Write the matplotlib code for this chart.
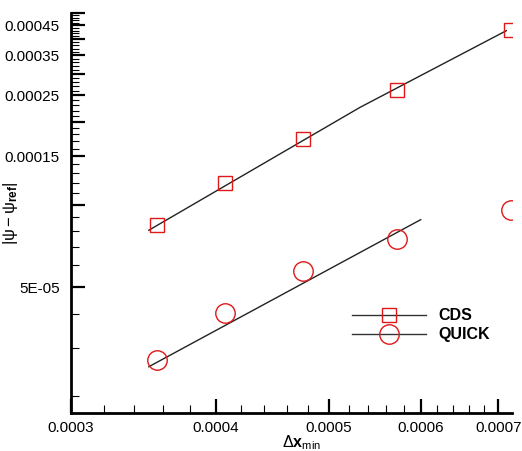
import matplotlib.pyplot as plt
import numpy as np
from matplotlib.ticker import FixedLocator, NullFormatter

plt.rcParams['font.family'] = ['Liberation Sans', 'DejaVu Sans']
plt.rcParams['mathtext.fontset'] = 'custom'
plt.rcParams['mathtext.rm'] = 'Liberation Sans'
plt.rcParams['mathtext.it'] = 'Liberation Sans'
plt.rcParams['mathtext.bf'] = 'Liberation Sans:bold'

# grid spacing and error, both schemes
dx = [3.56e-4, 4.07e-4, 4.75e-4, 5.73e-4, 7.17e-4]
err_cds = [8.4e-5, 1.20e-4, 1.74e-4, 2.62e-4, 4.34e-4]
err_quick = [2.71e-5, 4.02e-5, 5.73e-5, 7.46e-5, 9.55e-5]

# reference slope lines
fit_cds_x = [3.5e-4, 5.32e-4, 7.11e-4]
fit_cds_y = [8.06e-5, 2.26e-4, 4.30e-4]
fit_quick_x = [3.5e-4, 6.0e-4]
fit_quick_y = [2.565e-5, 8.81e-5]

xticks = [3e-4, 4e-4, 5e-4, 6e-4, 7e-4]
xtick_labels = ['0.0003', '0.0004', '0.0005', '0.0006', '0.0007']
yticks = [5e-5, 1e-4, 1.5e-4, 2e-4, 2.5e-4, 3e-4, 3.5e-4, 4e-4, 4.5e-4, 5e-4]
ytick_labels = ['5E-05', '', '0.00015', '', '0.00025', '', '0.00035', '', '0.00045', '']

fig = plt.figure(figsize=(5.22, 4.51), dpi=100)
ax = fig.add_axes([71/522, 38/451, 441/522, 400.3/451])

ax.plot(fit_cds_x, fit_cds_y, color='#222222', lw=1)
ax.plot(fit_quick_x, fit_quick_y, color='#222222', lw=1)
ax.plot(dx, err_cds, ls='none', marker='s', ms=10, mfc='none', mec='#e01818', mew=1)
ax.plot(dx, err_quick, ls='none', marker='o', ms=14, mfc='none', mec='#e01818', mew=1)

# legend entries: line plus marker
h1, = ax.plot([], [], color='#333333', lw=1, marker='s', ms=10, mfc='none', mec='#e01818', mew=1)
h2, = ax.plot([], [], color='#333333', lw=1, marker='o', ms=14, mfc='none', mec='#e01818', mew=1)
leg = ax.legend([h1, h2], ['CDS', 'QUICK'], frameon=False, handlelength=4.6,
                prop={'weight': 'bold', 'size': 11.5}, labelspacing=0.25, handletextpad=0.8,
                loc='upper left', bbox_to_anchor=((338-71)/441, (413-294)/400.3))

ax.set_xscale('log')
ax.set_yscale('log')
ax.set_xlim(3e-4, 7.19e-4)
ax.set_ylim(1.74e-5, 5e-4)

ax.xaxis.set_major_locator(FixedLocator(xticks))
ax.set_xticklabels(xtick_labels)
ax.xaxis.set_minor_locator(FixedLocator(np.arange(3.2e-4, 7.1e-4, 2e-5)))
ax.xaxis.set_minor_formatter(NullFormatter())
ax.yaxis.set_major_locator(FixedLocator(yticks))
ax.set_yticklabels(ytick_labels)
ax.yaxis.set_minor_locator(FixedLocator(np.arange(2e-5, 5e-4, 1e-5)))
ax.yaxis.set_minor_formatter(NullFormatter())

ax.tick_params(which='major', direction='in', length=10, width=1.6, labelsize=11, pad=6)
ax.tick_params(which='minor', direction='in', length=5.5, width=0.8)
ax.tick_params(axis='y', which='major', pad=8)

for s in ['top', 'right']:
    ax.spines[s].set_visible(False)
for s in ['left', 'bottom']:
    ax.spines[s].set_linewidth(2)

ax.set_xlabel(r'$\Delta\mathbf{x}_{\mathrm{min}}$', fontsize=11.5)
ax.xaxis.set_label_coords((302-71)/441, -0.05)
ax.set_ylabel(r'$|\psi - \psi_{\mathbf{ref}}|$', fontsize=12)
ax.yaxis.set_label_coords(-0.115, 0.5)

fig.savefig('out.png', dpi=100)
